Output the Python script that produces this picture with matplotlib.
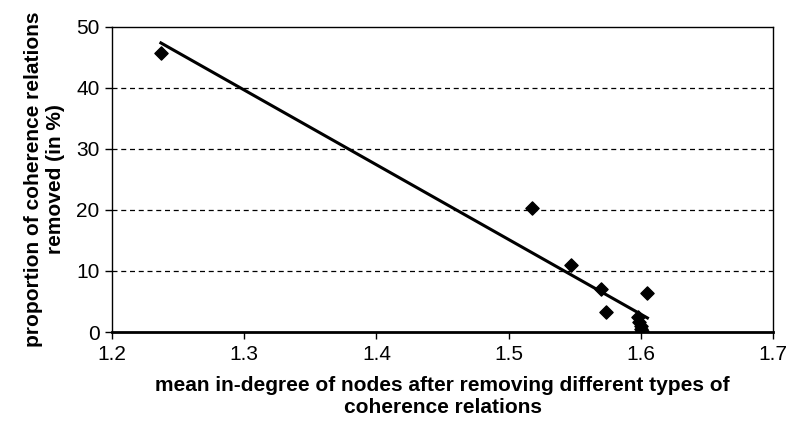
import matplotlib
matplotlib.use("Agg")
import matplotlib.pyplot as plt
import numpy as np

# mean in-degree after removing each relation type vs. % of relations removed
mean_indegree = [1.237, 1.518, 1.547, 1.570, 1.574, 1.605,
                 1.598, 1.599, 1.600, 1.600, 1.601]
pct_removed = [45.7, 20.4, 11.0, 7.0, 3.3, 6.4,
               2.5, 1.6, 1.0, 0.5, 0.2]

plt.rcParams["font.family"] = ["Liberation Sans", "DejaVu Sans"]

fig = plt.figure(figsize=(7.86, 4.25), dpi=100)
ax = fig.add_axes([112 / 786, 1 - 332 / 425, 661 / 786, 305 / 425])

x = np.array(mean_indegree)
y = np.array(pct_removed)
slope, intercept = np.polyfit(x, y, 1)
xs = np.array([x.min(), x.max()])
ax.plot(xs, slope * xs + intercept, color="black", lw=2.2, zorder=3)
ax.scatter(x, y, marker="D", s=45, color="black", zorder=4)

ax.set_xlim(1.2, 1.7)
ax.set_ylim(0, 50)
ax.set_xticks([1.2, 1.3, 1.4, 1.5, 1.6, 1.7])
ax.set_yticks([0, 10, 20, 30, 40, 50])
for yv in [10, 20, 30, 40]:
    ax.axhline(yv, color="black", lw=0.9, ls=(0, (4, 3)), zorder=1)

for s in ax.spines.values():
    s.set_linewidth(1.0)
ax.spines["bottom"].set_linewidth(2.0)
ax.tick_params(direction="out", length=5, width=1, labelsize=15, pad=4)

ax.set_xlabel("mean in-degree of nodes after removing different types of\ncoherence relations",
              fontsize=15, fontweight="bold", labelpad=9, linespacing=1.2)
ax.set_ylabel("proportion of coherence relations\nremoved (in %)",
              fontsize=15, fontweight="bold", labelpad=8, linespacing=1.2)

fig.savefig("out.png", dpi=100)
